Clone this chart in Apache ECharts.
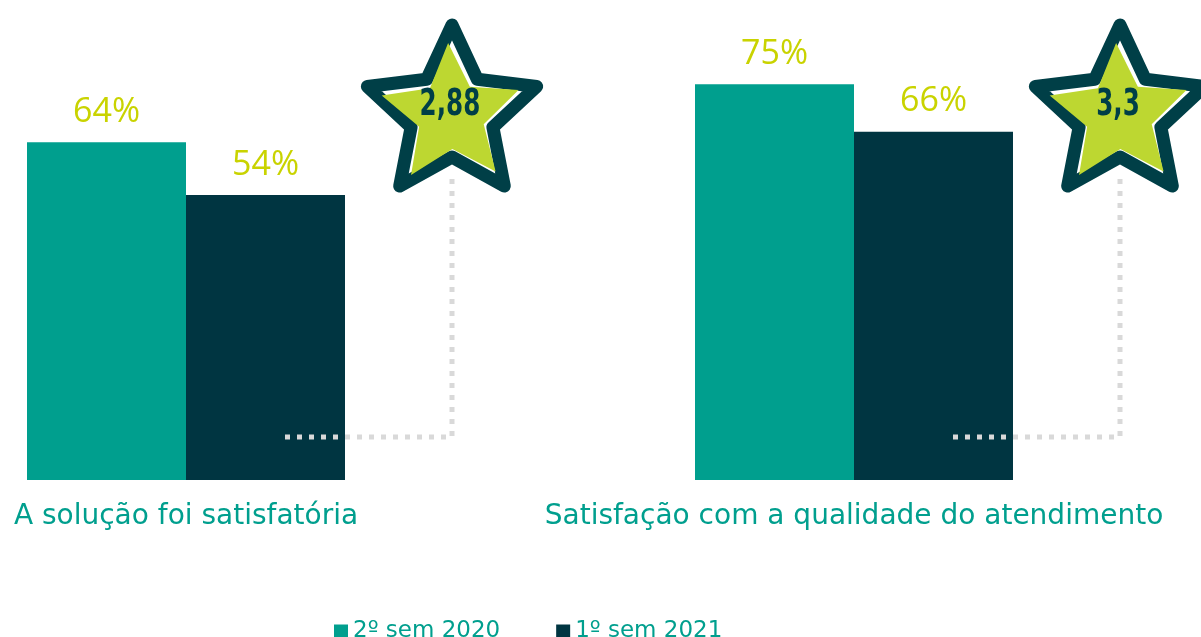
<!DOCTYPE html>
<html>
<head>
<meta charset="utf-8">
<script src="https://cdn.jsdelivr.net/npm/echarts@6/dist/echarts.min.js"></script>
<style>
  html, body { margin: 0; padding: 0; background: #fff; }
  #main { width: 1201px; height: 637px; }
</style>
</head>
<body>
<div id="main"></div>
<script>
// dados
const categories = ['A solução foi satisfatória', 'Satisfação com a qualidade do atendimento'];
const seriesNames = ['2º sem 2020', '1º sem 2021'];
const sem2020 = [64, 75];
const sem2021 = [54, 66];
const scores = [2.88, 3.3];

const TEAL = '#009f8e';
const DARK = '#003541';
const LIME = '#bdd731';
const STAR_LINE = '#003f47';

const chart = echarts.init(document.getElementById('main'), null, { renderer: 'canvas' });

// pontos de uma estrela de 5 pontas
function starPoints(cx, cy, R, r, rot) {
  const pts = [];
  for (let i = 0; i < 10; i++) {
    const rad = i % 2 === 0 ? R : r;
    const a = -Math.PI / 2 + i * Math.PI / 5 + (rot || 0);
    pts.push([cx + rad * Math.cos(a), cy + rad * Math.sin(a)]);
  }
  return pts;
}

function renderStar(params, api) {
  const idx = api.value(0);
  const score = api.value(1);
  const base = api.coord([idx, 0]);
  const sx = base[0] + 266;   // centro da estrela
  const sy = base[1] - 366;
  const lineY = base[1] - 43;
  const dotted = {
    stroke: '#d9d9d9', lineWidth: 5, lineDash: [5, 7], fill: null
  };
  return {
    type: 'group',
    children: [
      {
        type: 'polyline',
        shape: { points: [[base[0] + 99, lineY], [sx, lineY], [sx, sy + 60]] },
        style: dotted
      },
      {
        type: 'polygon',
        shape: { points: starPoints(sx, sy, 89, 43) },
        style: { fill: '#fff', stroke: STAR_LINE, lineWidth: 13, lineJoin: 'round' }
      },
      {
        type: 'polygon',
        shape: { points: starPoints(sx - 1, sy + 1, 72, 34, -0.04) },
        style: { fill: LIME }
      },
      {
        type: 'text',
        x: sx - 2,
        y: sy - 9,
        scaleX: 0.74,
        style: {
          text: String(score).replace('.', ','),
          x: 0, y: 0,
          align: 'center', verticalAlign: 'middle',
          fill: STAR_LINE,
          font: 'bold 37px "DejaVu Sans Condensed", "DejaVu Sans"'
        }
      }
    ]
  };
}

const barLabel = {
  show: true,
  position: 'top',
  distance: 13,
  formatter: '{c}%',
  color: '#c9d300',
  fontFamily: 'Open Sans',
  fontSize: 34
};

const option = {
  animation: false,
  color: [TEAL, DARK],
  grid: {
    left: 186,
    right: 347,
    top: 5,
    bottom: 157
  },
  legend: {
    data: seriesNames,
    left: 329,
    top: 615,
    icon: 'rect',
    itemWidth: 14,
    itemHeight: 14,
    itemGap: 56,
    textStyle: {
      color: TEAL,
      fontFamily: 'DejaVu Sans',
      fontSize: 23
    }
  },
  xAxis: {
    type: 'category',
    data: categories,
    boundaryGap: false,
    axisLine: { show: false },
    axisTick: { show: false },
    axisLabel: {
      interval: 0,
      color: TEAL,
      fontFamily: 'DejaVu Sans',
      fontSize: 28,
      margin: 23
    }
  },
  yAxis: {
    type: 'value',
    min: 0,
    max: 90,
    show: false,
    splitLine: { show: false }
  },
  series: [
    {
      name: seriesNames[0],
      type: 'bar',
      barWidth: 159,
      barGap: '0%',
      data: sem2020,
      label: barLabel
    },
    {
      name: seriesNames[1],
      type: 'bar',
      barWidth: 159,
      barGap: '0%',
      data: sem2021,
      label: barLabel
    },
    {
      type: 'custom',
      name: 'nota',
      renderItem: renderStar,
      data: scores.map((s, i) => [i, s]),
      z: 5,
      silent: true
    }
  ]
};

chart.setOption(option);
</script>
</body>
</html>
